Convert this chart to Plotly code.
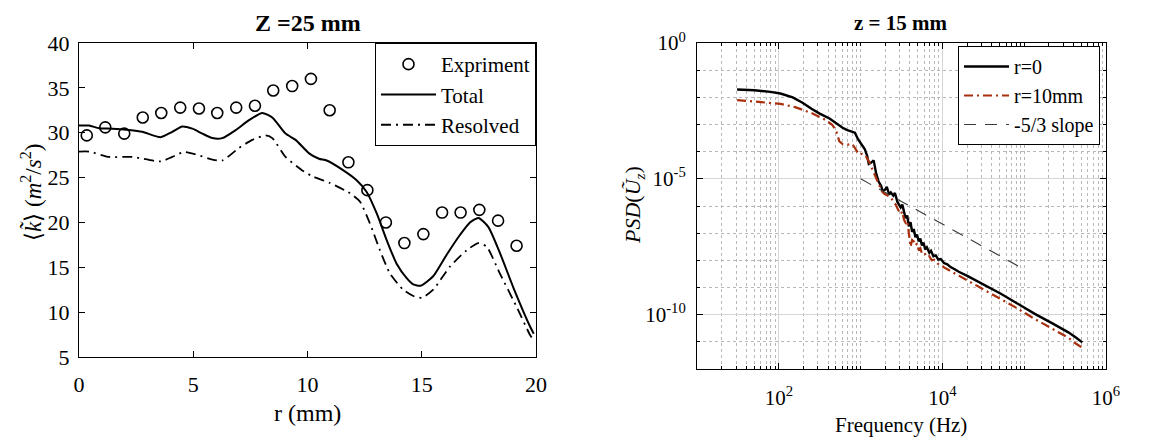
import plotly.graph_objects as go

W, H = 1176, 441

# ---- Left panel: <k> profile at Z = 25 mm ----
r_exp = [0.34, 1.15, 1.98, 2.79, 3.60, 4.43, 5.25, 6.05, 6.88, 7.70, 8.50, 9.33,
         10.15, 10.97, 11.79, 12.62, 13.43, 14.24, 15.07, 15.89, 16.70, 17.52, 18.34, 19.15]
k_exp = [29.7, 30.6, 29.9, 31.7, 32.2, 32.8, 32.7, 32.2, 32.8, 33.0, 34.7, 35.2,
         36.0, 32.5, 26.7, 23.6, 20.0, 17.7, 18.7, 21.1, 21.1, 21.4, 20.2, 17.4]

r_total = [0.0, 0.44, 0.88, 1.46, 2.19, 2.77, 3.57, 4.08, 4.52, 4.96, 5.40, 5.84, 6.27,
           6.86, 7.44, 8.02, 8.46, 9.04, 9.48, 10.07, 10.50, 10.84, 11.57, 12.15, 12.59,
           13.03, 13.47, 13.90, 14.34, 14.63, 14.95, 15.50, 16.09, 16.67, 17.11, 17.48,
           17.91, 18.42, 19.00, 19.74, 19.90]
k_total = [30.8, 30.8, 30.5, 30.45, 30.3, 30.1, 29.5, 30.1, 30.7, 30.45, 29.9, 29.4, 29.4,
           30.3, 31.4, 32.2, 31.7, 29.9, 29.2, 27.7, 27.1, 26.9, 25.8, 24.7, 23.4,
           21.0, 18.0, 15.4, 13.8, 13.1, 12.95, 14.0, 16.4, 18.6, 20.0, 20.5,
           19.5, 16.6, 12.8, 8.4, 7.6]

r_resolved = [0.0, 0.44, 1.31, 2.33, 3.57, 4.08, 4.60, 5.10, 5.84, 6.27, 7.00, 7.59, 8.17,
              8.46, 9.04, 9.77, 10.25, 10.98, 11.86, 12.30, 12.73, 13.17, 13.61, 14.19,
              14.63, 15.00, 15.50, 16.24, 16.97, 17.48, 17.84, 18.42, 19.15, 19.74, 19.88]
k_resolved = [27.9, 27.9, 27.3, 27.3, 26.8, 27.3, 27.85, 27.6, 27.0, 26.9, 28.3, 29.2, 29.7,
              29.4, 27.3, 25.8, 25.1, 24.4, 23.25, 22.3, 19.9, 16.9, 14.3, 12.5,
              11.8, 11.6, 12.5, 15.1, 16.9, 17.7, 17.3, 14.3, 10.6, 7.45, 6.9]

# ---- Right panel: PSD of axial velocity at z = 15 mm (log10 of Hz, log10 of PSD) ----
logf_r0 = [1.49, 1.70, 1.90, 2.02, 2.17, 2.29, 2.40, 2.50, 2.62, 2.72, 2.78, 2.83, 2.88,
           2.93, 2.97, 3.01, 3.05, 3.08, 3.10, 3.13, 3.16, 3.19, 3.22, 3.25, 3.27, 3.30,
           3.32, 3.35, 3.37, 3.40, 3.42, 3.45, 3.47, 3.49, 3.51, 3.53, 3.55, 3.57, 3.59,
           3.61, 3.63, 3.65, 3.67, 3.69, 3.71, 3.73, 3.75, 3.77, 3.79, 3.81, 3.84, 3.86,
           3.89, 3.92, 3.95, 3.98, 4.02, 4.06, 4.10, 4.15, 4.20, 4.31, 4.50, 4.72, 4.90,
           5.13, 5.35, 5.54, 5.64, 5.71]
logpsd_r0 = [-1.71, -1.74, -1.80, -1.86, -2.00, -2.20, -2.42, -2.60, -2.78, -3.00, -3.12,
             -3.20, -3.24, -3.30, -3.55, -3.72, -3.90, -4.15, -4.45, -4.40, -4.32, -4.80,
             -5.10, -5.25, -5.45, -5.40, -5.30, -5.58, -5.50, -5.62, -5.52, -5.85, -5.95,
             -6.05, -5.95, -6.20, -6.45, -6.35, -6.75, -6.60, -6.95, -6.85, -7.15, -7.05,
             -7.30, -7.20, -7.45, -7.35, -7.60, -7.52, -7.72, -7.65, -7.85, -7.82, -7.97,
             -7.95, -8.10, -8.15, -8.25, -8.33, -8.42, -8.58, -8.88, -9.24, -9.56, -9.97,
             -10.33, -10.65, -10.86, -11.02]

logf_r10 = [1.49, 1.77, 2.02, 2.20, 2.40, 2.55, 2.65, 2.70, 2.74, 2.78, 2.84, 2.90, 2.95,
            2.98, 3.02, 3.06, 3.10, 3.14, 3.18, 3.22, 3.26, 3.29, 3.33, 3.37, 3.40, 3.43,
            3.46, 3.49, 3.51, 3.53, 3.55, 3.57, 3.59, 3.61, 3.63, 3.65, 3.67, 3.69, 3.71,
            3.73, 3.75, 3.78, 3.81, 3.84, 3.87, 3.90, 3.94, 3.98, 4.02, 4.08, 4.15, 4.31,
            4.50, 4.72, 4.90, 5.13, 5.35, 5.54, 5.64, 5.71]
logpsd_r10 = [-2.10, -2.16, -2.24, -2.36, -2.58, -2.80, -3.00, -3.22, -3.62, -3.72, -3.74,
              -3.72, -3.95, -4.10, -4.08, -4.15, -4.35, -4.62, -4.85, -5.15, -5.45, -5.55,
              -5.62, -5.68, -5.85, -5.95, -6.15, -6.30, -6.20, -6.50, -6.62, -6.55, -7.00,
              -7.50, -7.25, -7.30, -7.45, -7.38, -7.60, -7.55, -7.75, -7.72, -7.88, -7.85,
              -8.00, -7.98, -8.12, -8.15, -8.26, -8.36, -8.48, -8.76, -9.08, -9.43, -9.74,
              -10.16, -10.52, -10.85, -11.08, -11.22]

logf_slope = [3.0, 5.0]
logpsd_slope = [-5.0, -5.0 - 2 * 5 / 3]

FONT = "Liberation Serif"
RED = "#a8300f"


def px(x):
    return x / W


def py(y):
    return 1 - y / H


def serif(size):
    return dict(family=FONT, size=size, color="black")


fig = go.Figure()

# left panel traces
fig.add_trace(go.Scatter(
    x=r_exp, y=k_exp, mode="markers", name="Expriment",
    marker=dict(symbol="circle-open", size=11, color="black", line=dict(width=1.6)),
    xaxis="x", yaxis="y", legend="legend"))
fig.add_trace(go.Scatter(
    x=r_total, y=k_total, mode="lines", name="Total",
    line=dict(color="black", width=2, shape="spline", smoothing=0.6),
    xaxis="x", yaxis="y", legend="legend"))
fig.add_trace(go.Scatter(
    x=r_resolved, y=k_resolved, mode="lines", name="Resolved",
    line=dict(color="black", width=1.8, dash="10px,5px,2px,5px", shape="spline", smoothing=0.6),
    xaxis="x", yaxis="y", legend="legend"))

# right panel traces
fig.add_trace(go.Scatter(
    x=[10 ** v for v in logf_r0], y=[10 ** v for v in logpsd_r0], mode="lines", name="r=0",
    line=dict(color="black", width=2.4),
    xaxis="x2", yaxis="y2", legend="legend2"))
fig.add_trace(go.Scatter(
    x=[10 ** v for v in logf_r10], y=[10 ** v for v in logpsd_r10], mode="lines", name="r=10mm",
    line=dict(color=RED, width=2.2, dash="9px,4px,2px,4px"),
    xaxis="x2", yaxis="y2", legend="legend2"))
fig.add_trace(go.Scatter(
    x=[10 ** v for v in logf_slope], y=[10 ** v for v in logpsd_slope], mode="lines",
    name="-5/3 slope",
    line=dict(color="#3a3a3a", width=1.1, dash="12px,9px"),
    xaxis="x2", yaxis="y2", legend="legend2"))

axis_common = dict(showline=True, linecolor="black", linewidth=1, mirror="ticks",
                   ticks="inside", tickcolor="black", zeroline=False, automargin=False)

fig.update_layout(
    template="none",
    width=W, height=H,
    margin=dict(l=0, r=0, t=0, b=0, pad=0),
    paper_bgcolor="white", plot_bgcolor="white",
    font=serif(22),
    xaxis=dict(domain=[px(79), px(536)], anchor="y", range=[0, 20],
               tickvals=[0, 5, 10, 15, 20], ticklen=6, showgrid=False,
               tickfont=serif(22), ticklabelstandoff=8, **axis_common),
    yaxis=dict(domain=[py(357), py(43)], anchor="x", range=[5, 40],
               tickvals=[5, 10, 15, 20, 25, 30, 35, 40], ticklen=6, showgrid=False,
               tickfont=serif(22), ticklabelstandoff=4, **axis_common),
    xaxis2=dict(domain=[px(697), px(1106)], anchor="y2", type="log", range=[1, 6],
                tickvals=[1e2, 1e4, 1e6],
                ticktext=["10<sup>2</sup>", "10<sup>4</sup>", "10<sup>6</sup>"],
                ticklen=6, showgrid=True, gridcolor="#d6d6d6", gridwidth=1,
                tickfont=serif(21), ticklabelstandoff=10,
                minor=dict(dtick="D1", showgrid=True, gridcolor="#b8b8b8", griddash="dot",
                           gridwidth=1, ticks="inside", ticklen=3, tickcolor="black"),
                **axis_common),
    yaxis2=dict(domain=[py(369), py(43)], anchor="x2", type="log", range=[-12, 0],
                tickvals=[1e-10, 1e-5, 1],
                ticktext=["10<sup>-10</sup>", "10<sup>-5</sup>", "10<sup>0</sup>"],
                ticklen=6, showgrid=True, gridcolor="#d6d6d6", gridwidth=1,
                tickfont=serif(21), ticklabelstandoff=6,
                minor=dict(tickmode="linear", tick0=0, dtick=1, showgrid=True,
                           gridcolor="#b8b8b8", griddash="dot", gridwidth=1,
                           ticks="inside", ticklen=3, tickcolor="black"),
                **axis_common),
    legend=dict(x=px(536), y=py(43), xanchor="right", yanchor="top",
                bgcolor="white", bordercolor="black", borderwidth=1,
                font=serif(21), itemwidth=55, tracegroupgap=0),
    legend2=dict(x=px(1100), y=py(46), xanchor="right", yanchor="top",
                 bgcolor="white", bordercolor="black", borderwidth=1,
                 font=serif(20), itemwidth=45, tracegroupgap=0),
    showlegend=True,
)

annotations = [
    dict(text="<b>Z =25 mm</b>", x=px(307.5), y=py(23), font=serif(24)),
    dict(text="<b>z = 15 mm</b>", x=px(901), y=py(23), font=serif(21)),
    dict(text="r (mm)", x=px(307.5), y=py(413), font=serif(24)),
    dict(text="Frequency (Hz)", x=px(901), y=py(425), font=serif(21)),
    dict(text="⟨<i>k̃</i>⟩ (<i>m</i><sup>2</sup>/<i>s</i><sup>2</sup>)", x=px(31), y=py(193),
         textangle=-90, font=serif(23)),
    dict(text="<i>PSD</i>(<i>Ũ<sub>z</sub></i>)", x=px(634), y=py(205),
         textangle=-90, font=serif(22)),
]
for a in annotations:
    a.update(xref="paper", yref="paper", showarrow=False, xanchor="center", yanchor="middle")
fig.update_layout(annotations=annotations)

fig.write_html("out.html")
